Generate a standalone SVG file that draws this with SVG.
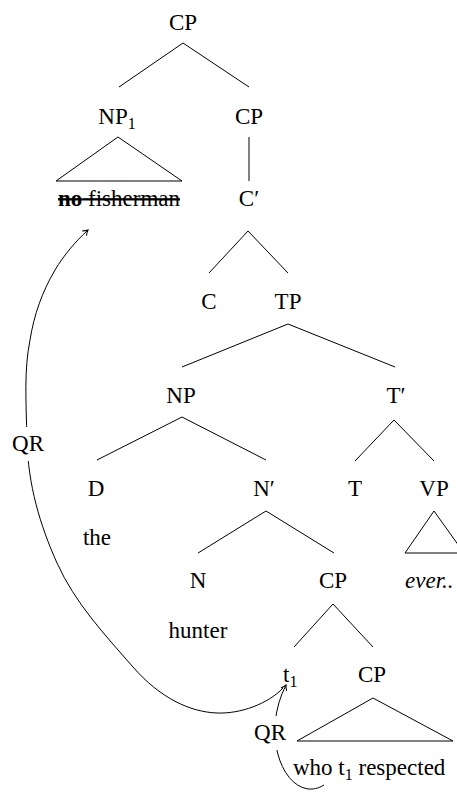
<svg xmlns="http://www.w3.org/2000/svg" width="457" height="793" viewBox="0 0 457 793">
<style>
text{font-family:"Liberation Serif","Times New Roman",serif;font-size:23px;fill:#000;text-anchor:middle}
.sub{font-size:16px}
.e{stroke:#000;stroke-width:1;fill:none}
.mv{stroke:#000;stroke-width:1;fill:none;marker-end:url(#ah)}
.bg{fill:#fff}
</style>
<defs>
<marker id="ah" viewBox="-6 -4 7 8" markerWidth="7" markerHeight="8" refX="0" refY="0" orient="auto" markerUnits="userSpaceOnUse">
<path d="M-5,-3.2 Q-2,-0.8 0,0 Q-2,0.8 -5,3.2" fill="none" stroke="#000" stroke-width="1"/>
</marker>
</defs>
<g id="connectors">
<path class="e" d="M119,87 L183,43 L249,87"/>
<path class="e" d="M56,181 L118,137 L182,181 Z"/>
<path class="e" d="M249,137 L249,181"/>
<path class="e" d="M209,273 L248,231 L288,273"/>
<path class="e" d="M182,367 L288,324 L395,367"/>
<path class="e" d="M97,460 L182,417 L266,460"/>
<path class="e" d="M355,461 L394,420 L434,461"/>
<path class="e" d="M405,553 L434,511 L464,553 Z"/>
<path class="e" d="M198,553 L266,511 L334,553"/>
<path class="e" d="M294,647 L333,604 L373,647"/>
<path class="e" d="M297,741 L373,698 L453,741 Z"/>
<path class="mv" d="M283,688 C268,704 240,714 217,713 C190,712 160,698 133,667 C105,635 75,603 57,563 C40,525 28,485 27,440 C26,400 24,370 30,340 C34,315 42,292 55,270 C64,255 75,242 88,230"/>
<path class="mv" d="M324,785 C290,806 257,742 286,685"/>
</g>
<g id="n-cp-top"><text x="183" y="30">CP</text></g>
<g id="n-np1"><text x="117" y="124">NP<tspan class="sub" dy="5">1</tspan></text></g>
<g id="n-cp2"><text x="249" y="124">CP</text></g>
<g id="n-nofisherman"><text x="119" y="206" text-decoration="line-through"><tspan font-weight="bold">no</tspan> fisherman</text></g>
<g id="n-cbar"><text x="249" y="206">C′</text></g>
<g id="n-c"><text x="209" y="309">C</text></g>
<g id="n-tp"><text x="288" y="309">TP</text></g>
<g id="n-np"><text x="181" y="403">NP</text></g>
<g id="n-tbar"><text x="396" y="403">T′</text></g>
<g id="n-d"><text x="96" y="496">D</text></g>
<g id="n-nbar"><text x="264" y="496">N′</text></g>
<g id="n-t"><text x="355" y="496">T</text></g>
<g id="n-vp"><text x="434" y="496">VP</text></g>
<g id="n-the"><text x="97" y="545">the</text></g>
<g id="n-n"><text x="198" y="588">N</text></g>
<g id="n-cp3"><text x="333" y="588">CP</text></g>
<g id="n-ever"><text x="405" y="588" style="text-anchor:start;font-style:italic">ever..</text></g>
<g id="n-hunter"><text x="198" y="638">hunter</text></g>
<g id="n-t1"><text x="283" y="682" style="text-anchor:start">t<tspan class="sub" dy="5">1</tspan></text></g>
<g id="n-cp4"><text x="372" y="682">CP</text></g>
<g id="n-who"><text x="293" y="775" style="text-anchor:start">who t<tspan class="sub" dy="5">1</tspan><tspan dy="-5"> respected</tspan></text></g>
<g id="l-qr1"><rect class="bg" x="10" y="427" width="37" height="34"/><text x="28" y="451">QR</text></g>
<g id="l-qr2"><rect class="bg" x="252" y="716" width="37" height="34"/><text x="270" y="740">QR</text></g>
</svg>
